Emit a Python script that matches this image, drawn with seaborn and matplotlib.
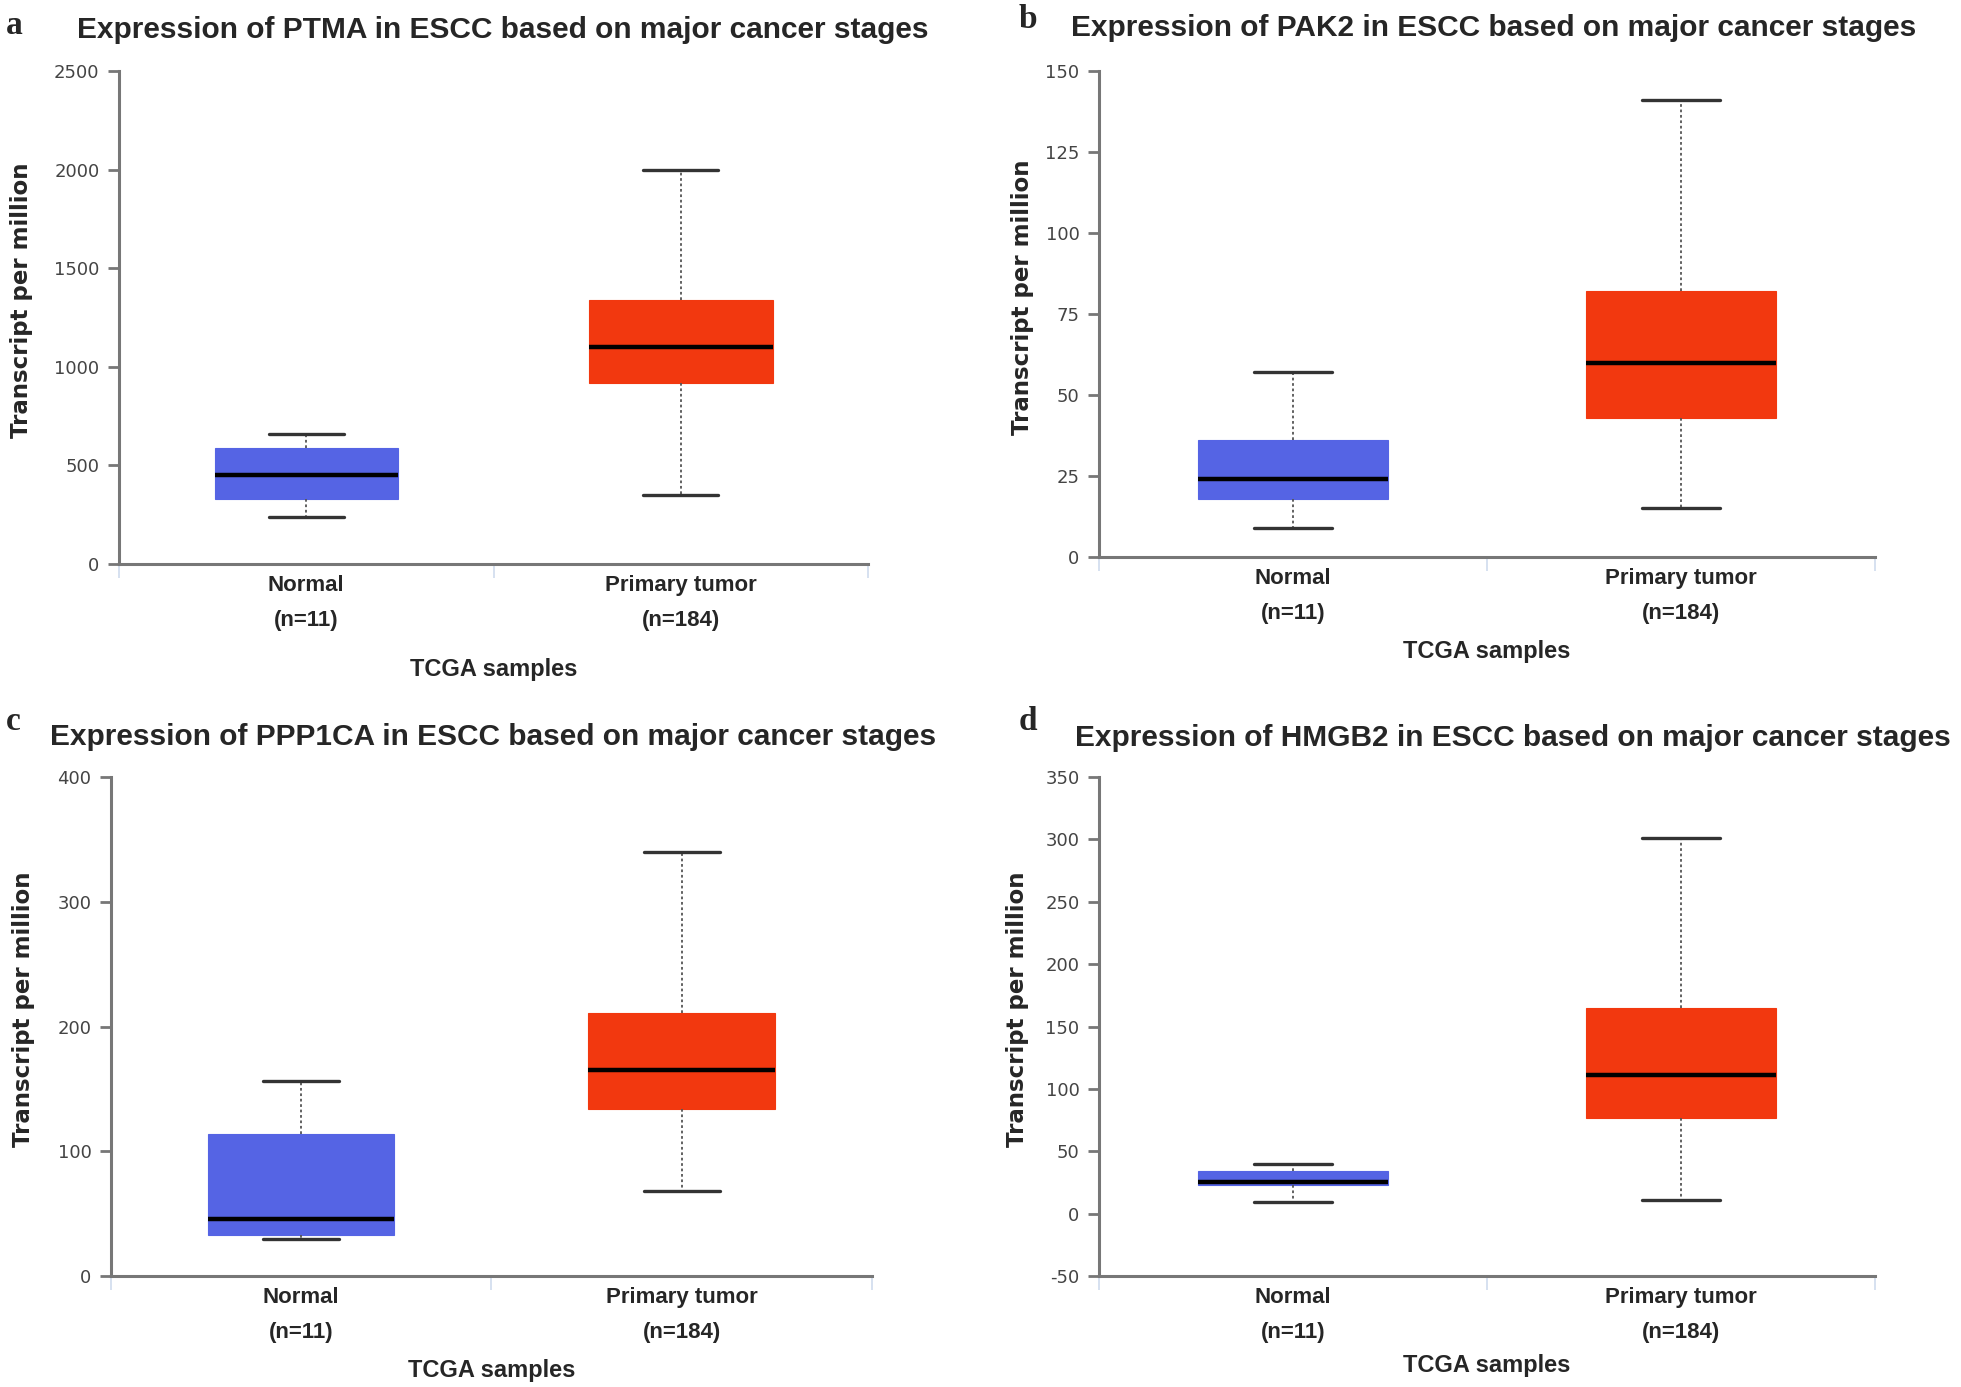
import numpy as np
import pandas as pd
import matplotlib
matplotlib.use('Agg')
import matplotlib.pyplot as plt
import seaborn as sns

# five-number summaries: low whisker, Q1, median, Q3, high whisker
genes = ['PTMA', 'PAK2', 'PPP1CA', 'HMGB2']
panel_letters = ['a', 'b', 'c', 'd']
groups = ['Normal', 'Primary tumor']
group_n = ['(n=11)', '(n=184)']

ptma_normal = [240, 330, 450, 590, 660]
ptma_tumor = [350, 920, 1100, 1340, 2000]
pak2_normal = [9, 18, 24, 36, 57]
pak2_tumor = [15, 43, 60, 82, 141]
ppp1ca_normal = [30, 33, 46, 114, 156]
ppp1ca_tumor = [68, 134, 165, 211, 340]
hmgb2_normal = [9, 23, 25, 34, 40]
hmgb2_tumor = [11, 77, 111, 165, 301]

ylims = [(0, 2500), (0, 150), (0, 400), (-50, 350)]
ytick_sets = [
    [0, 500, 1000, 1500, 2000, 2500],
    [0, 25, 50, 75, 100, 125, 150],
    [0, 100, 200, 300, 400],
    [-50, 0, 50, 100, 150, 200, 250, 300, 350],
]

summaries = [
    (ptma_normal, ptma_tumor),
    (pak2_normal, pak2_tumor),
    (ppp1ca_normal, ppp1ca_tumor),
    (hmgb2_normal, hmgb2_tumor),
]

box_colors = {'Normal': '#5564e4', 'Primary tumor': '#f2380f'}

# axes rectangles in figure fraction
positions = [
    [0.0607, 0.5934, 0.382, 0.3554],
    [0.5604, 0.5984, 0.3957, 0.3504],
    [0.0566, 0.0800, 0.388, 0.3598],
    [0.5604, 0.0800, 0.3957, 0.3598],
]
# title / letter anchors in figure pixels (from top-left)
title_xy = [(77, 30), (1071, 28), (50, 737), (1075, 738)]
letter_xy = [(6, 25), (1019, 20), (6, 722), (1019, 722)]
xlabel_pads = [20, 12, 12, 8]
ylabel_pads = [15, 8, 16, 12]

W, H = 1961, 1387

sns.set_theme(style='white')
plt.rcParams['font.family'] = ['DejaVu Sans']

narrow = ['Liberation Sans', 'DejaVu Sans']

fig = plt.figure(figsize=(19.61, 13.87), dpi=100)

for i, (gene, letter) in enumerate(zip(genes, panel_letters)):
    ax = fig.add_axes(positions[i])
    normal, tumor = summaries[i]
    df = pd.DataFrame({
        'group': ['Normal'] * len(normal) + ['Primary tumor'] * len(tumor),
        'tpm': normal + tumor,
    })
    sns.boxplot(data=df, x='group', y='tpm', hue='group', palette=box_colors,
                order=groups, whis=(0, 100), width=0.49, dodge=False,
                saturation=1, legend=False, ax=ax,
                linecolor='#333333',
                boxprops=dict(linewidth=0.8),
                medianprops=dict(color='black', linewidth=3.2),
                whiskerprops=dict(color='#555555', linestyle=(0, (1.5, 1.5)), linewidth=1.3),
                capprops=dict(color='#333333', linewidth=2.4),
                capwidths=0.2)
    # box edge same as fill
    for patch in ax.patches:
        patch.set_edgecolor(patch.get_facecolor())

    ax.set_xlim(-0.5, 1.5)
    ax.set_ylim(*ylims[i])
    ax.set_yticks(ytick_sets[i])
    ax.set_yticklabels([str(t) for t in ytick_sets[i]], color='#444444', fontsize=13)
    ax.set_xticks([0, 1])
    ax.set_xticklabels([f'{g}\n{n}' for g, n in zip(groups, group_n)],
                       family=narrow, fontweight='bold', fontsize=16,
                       linespacing=1.85)
    ax.set_xticks([-0.5, 0.5, 1.5], minor=True)
    ax.tick_params(axis='x', which='major', length=0, pad=8)
    ax.tick_params(axis='x', which='minor', length=10, width=1.2, color='#cfdcee',
                   direction='out', bottom=True)
    ax.tick_params(axis='y', which='major', length=8, width=2, color='#777777',
                   direction='out', left=True, pad=6)

    for side in ['top', 'right']:
        ax.spines[side].set_visible(False)
    for side in ['left', 'bottom']:
        ax.spines[side].set_color('#777777')
        ax.spines[side].set_linewidth(2.2)

    ax.set_xlabel('TCGA samples', family=narrow, fontweight='bold', fontsize=17,
                  labelpad=xlabel_pads[i])
    ax.set_ylabel('Transcript per million', fontweight='bold', fontsize=16.5,
                  labelpad=ylabel_pads[i])
    ax.yaxis.label.set_y(0.535)

    tx, ty = title_xy[i]
    fig.text(tx / W, 1 - ty / H,
             f'Expression of {gene} in ESCC based on major cancer stages',
             family=narrow, fontweight='bold', fontsize=21.5, ha='left', va='center')
    lx, ly = letter_xy[i]
    fig.text(lx / W, 1 - ly / H, letter, family='Liberation Serif',
             fontweight='bold', fontsize=24, ha='left', va='center')

fig.savefig('out.png', dpi=100, facecolor='white')
